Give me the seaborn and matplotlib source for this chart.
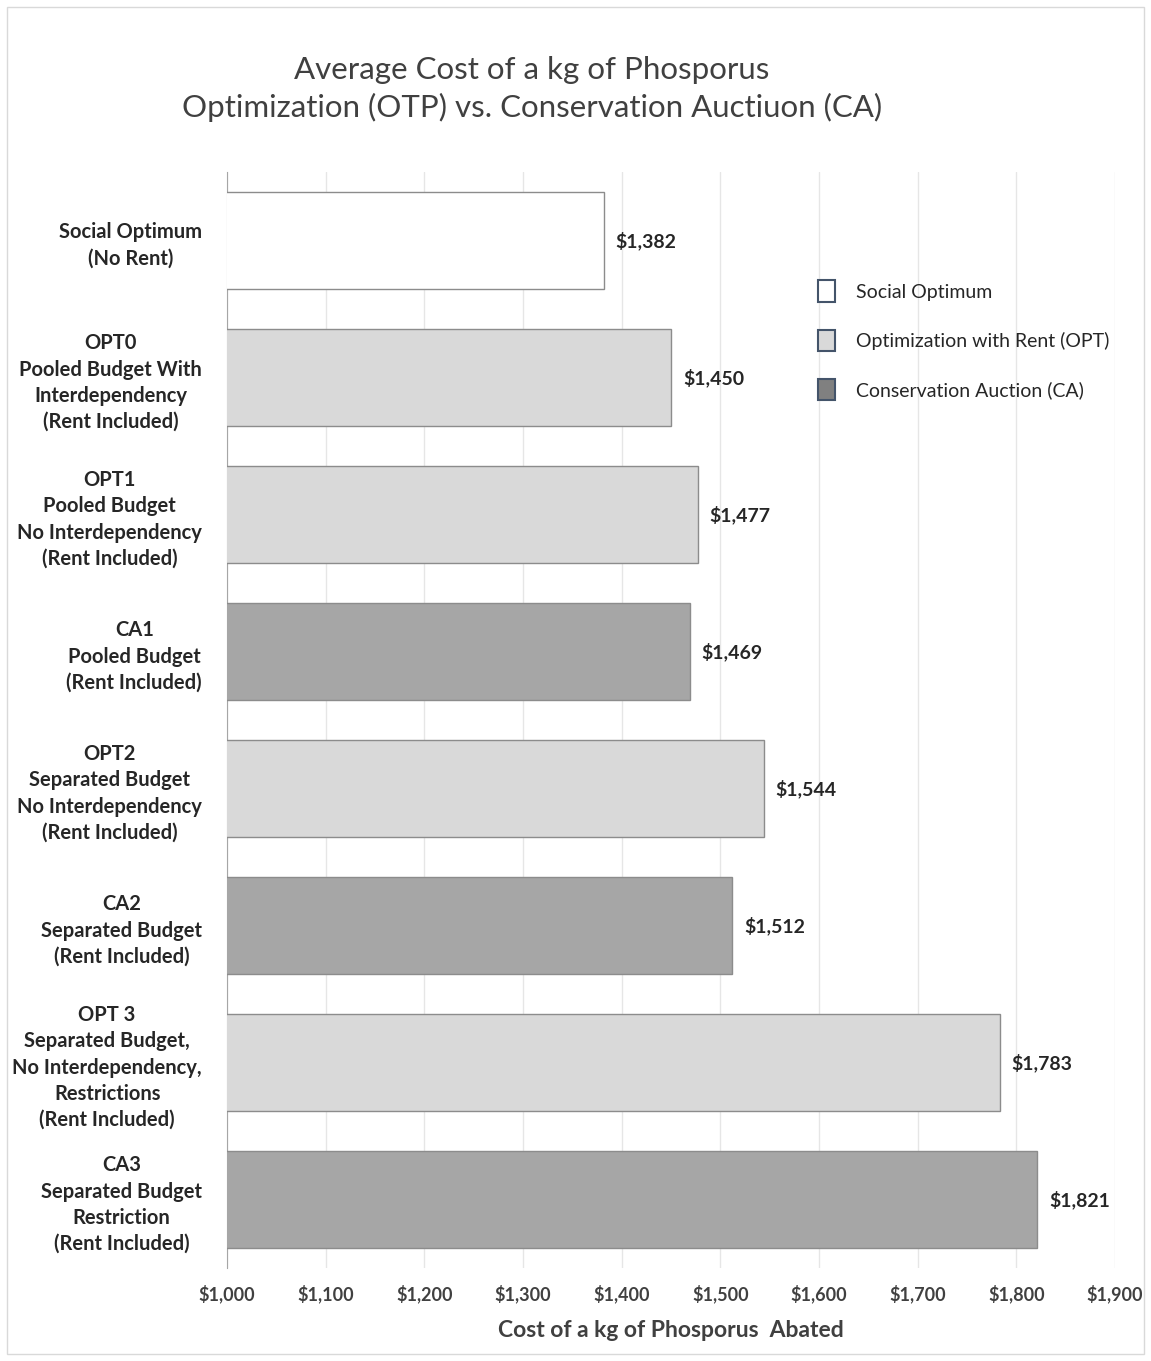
import matplotlib
matplotlib.use("Agg")
import matplotlib.pyplot as plt
import seaborn as sns
import pandas as pd
from matplotlib.patches import Patch, Rectangle

categories = [
    "Social Optimum\n(No Rent)",
    "OPT0\nPooled Budget With\nInterdependency\n(Rent Included)",
    "OPT1\nPooled Budget\nNo Interdependency\n(Rent Included)",
    "CA1\nPooled Budget\n(Rent Included)",
    "OPT2\nSeparated Budget\nNo Interdependency\n(Rent Included)",
    "CA2\nSeparated Budget\n(Rent Included)",
    "OPT 3\nSeparated Budget,\nNo Interdependency,\nRestrictions\n(Rent Included)",
    "CA3\nSeparated Budget\nRestriction\n(Rent Included)",
]
values = [1382, 1450, 1477, 1469, 1544, 1512, 1783, 1821]
groups = ["Social Optimum", "Optimization with Rent (OPT)", "Optimization with Rent (OPT)",
          "Conservation Auction (CA)", "Optimization with Rent (OPT)", "Conservation Auction (CA)",
          "Optimization with Rent (OPT)", "Conservation Auction (CA)"]
group_order = ["Social Optimum", "Optimization with Rent (OPT)", "Conservation Auction (CA)"]
x_ticks = [1000, 1100, 1200, 1300, 1400, 1500, 1600, 1700, 1800, 1900]

colors = {"Social Optimum": "#ffffff",
          "Optimization with Rent (OPT)": "#d9d9d9",
          "Conservation Auction (CA)": "#a6a6a6"}

df = pd.DataFrame({"cat": categories, "val": values, "grp": groups})

sns.set_style("white")
plt.rcParams["font.family"] = ["Lato", "DejaVu Sans"]

fig = plt.figure(figsize=(11.51, 13.61), dpi=100)
ax = fig.add_axes([227/1151, 1-1268/1361, (1115-227)/1151, (1268-172)/1361])

sns.barplot(data=df, y="cat", x="val", hue="grp", hue_order=group_order,
            palette=colors, dodge=False, orient="h", ax=ax, width=0.71,
            edgecolor="#8c8c8c", linewidth=1.0, legend=False, zorder=3)

ax.set_xlim(1000, 1900)
ax.set_ylim(7.5, -0.5)
ax.set_xticks(x_ticks)
ax.set_xticklabels([f"${t:,}" for t in x_ticks], fontsize=13, fontweight="bold", color="#404040")
ax.tick_params(axis="x", length=0, pad=12)
ax.tick_params(axis="y", length=0, pad=18)
for lbl in ax.get_yticklabels():
    lbl.set_multialignment("center")
    lbl.set_fontsize(14.5)
    lbl.set_fontweight("bold")
    lbl.set_color("#262626")
    lbl.set_linespacing(1.38)

ax.grid(axis="x", color="#e6e6e6", linewidth=1, zorder=0)
ax.set_axisbelow(True)
for s in ["top", "right", "bottom"]:
    ax.spines[s].set_visible(False)
ax.spines["left"].set_color("#a6a6a6")
ax.set_ylabel("")
ax.set_xlabel("Cost of a kg of Phosporus  Abated", fontsize=16.5, fontweight="bold",
              color="#404040", labelpad=12)

for i, v in enumerate(values):
    ax.text(v + 12, i, f"${v:,}", va="center", ha="left", fontsize=14,
            fontweight="bold", color="#262626")

fig.text(532/1151, 1-70/1361, "Average Cost of a kg of Phosporus", ha="center", va="center",
         fontsize=22.5, color="#404040")
fig.text(532/1151, 1-107/1361, "Optimization (OTP) vs. Conservation Auctiuon (CA)", ha="center",
         va="center", fontsize=22.5, color="#404040")

handles = [Patch(facecolor="#ffffff", edgecolor="#44546a", linewidth=1.5),
           Patch(facecolor="#d9d9d9", edgecolor="#44546a", linewidth=1.5),
           Patch(facecolor="#808080", edgecolor="#44546a", linewidth=1.5)]
leg = fig.legend(handles, group_order, loc="upper left",
                 bbox_to_anchor=(800/1151, 1-263/1361), frameon=False,
                 fontsize=14, handlelength=0.9, handleheight=1.3,
                 labelspacing=1.45, handletextpad=1.1)
for t in leg.get_texts():
    t.set_color("#262626")

fig.patches.append(Rectangle((7/1151, 7/1361), 1-14/1151, 1-14/1361,
                             transform=fig.transFigure, fill=False,
                             edgecolor="#d9d9d9", linewidth=1))

fig.savefig("out.png", dpi=100, facecolor="white")
